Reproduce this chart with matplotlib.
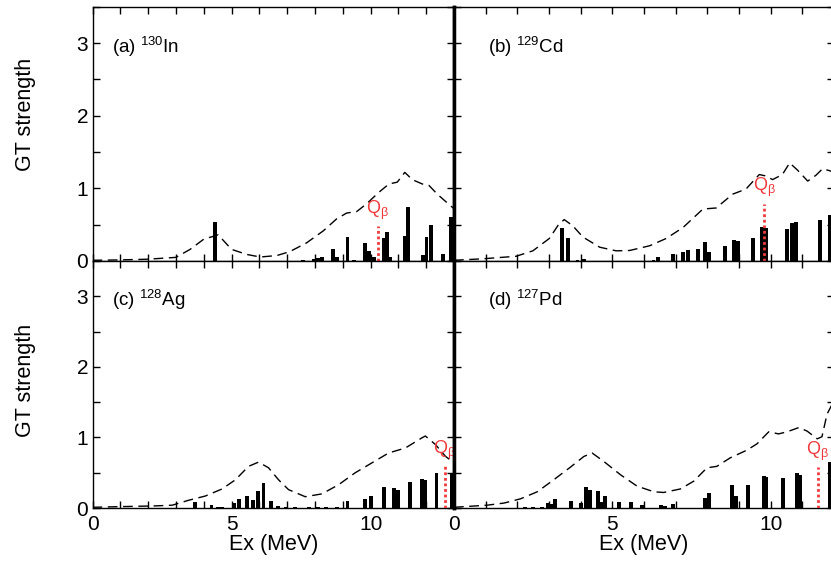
import matplotlib
matplotlib.use('Agg')
import matplotlib.pyplot as plt
from matplotlib.ticker import MultipleLocator, FuncFormatter

plt.rcParams['font.family'] = ['Liberation Sans', 'DejaVu Sans']
plt.rcParams['mathtext.fontset'] = 'custom'
plt.rcParams['mathtext.rm'] = 'Liberation Sans'
plt.rcParams['mathtext.it'] = 'Liberation Sans:italic'

# (a) 130In
a_ex = [4.39, 7.57, 7.95, 8.1, 8.25, 8.66, 8.8, 9.17, 9.4, 9.81, 9.95, 10.13,
        10.47, 10.6, 10.7, 11.25, 11.33, 11.88, 12.01, 12.18, 12.6, 12.88]
a_gt = [0.53, 0.02, 0.03, 0.04, 0.06, 0.17, 0.05, 0.33, 0.01, 0.25, 0.14, 0.06,
        0.31, 0.40, 0.05, 0.35, 0.75, 0.08, 0.33, 0.50, 0.10, 0.60]
a_fold_ex = [0, 1, 2, 3.0, 3.51, 4.0, 4.52, 5.0, 5.55, 6.03, 6.63, 7.1, 7.7,
             8.3, 8.78, 9.14, 9.5, 9.85, 10.3, 10.66, 10.96, 11.23, 11.5,
             11.86, 12.1, 12.4, 12.8, 13.0]
a_fold_gt = [0.01, 0.015, 0.025, 0.05, 0.16, 0.30, 0.36, 0.16, 0.09, 0.055,
             0.075, 0.13, 0.25, 0.415, 0.58, 0.66, 0.68, 0.785, 0.946, 1.06,
             1.085, 1.22, 1.12, 1.06, 1.04, 0.92, 0.785, 0.72]
a_q = 10.26
a_qtop = 0.48

# (b) 129Cd
b_ex = [3.42, 3.59, 3.9, 4.1, 6.3, 6.43, 6.92, 7.23, 7.4, 7.71, 7.92, 8.05,
        8.55, 8.84, 8.96, 9.45, 9.73, 9.85, 10.52, 10.68, 10.8, 11.55, 11.86]
b_gt = [0.45, 0.31, 0.01, 0.03, 0.01, 0.055, 0.09, 0.13, 0.15, 0.16, 0.26, 0.12,
        0.21, 0.29, 0.28, 0.31, 0.47, 0.45, 0.44, 0.52, 0.53, 0.57, 0.63]
b_fold_ex = [0, 0.9, 1.96, 2.49, 3.01, 3.3, 3.48, 3.75, 4.07, 4.6, 5.12, 5.55,
             6.18, 6.7, 7.23, 7.86, 8.28, 8.8, 9.22, 9.64, 9.85, 10.06, 10.37,
             10.6, 10.85, 11.17, 11.43, 11.64, 11.88, 12.0]
b_fold_gt = [0.01, 0.03, 0.065, 0.14, 0.31, 0.50, 0.57, 0.485, 0.33, 0.19, 0.14,
             0.145, 0.21, 0.31, 0.46, 0.715, 0.73, 0.92, 0.99, 1.19, 1.17, 1.12,
             1.19, 1.35, 1.25, 1.10, 1.18, 1.27, 1.24, 1.22]
b_q = 9.8
b_qtop = 0.79

# (c) 128Ag
c_ex = [3.68, 4.28, 4.5, 4.66, 5.1, 5.28, 5.55, 5.76, 5.94, 6.15, 6.43, 6.67,
        6.97, 7.27, 7.8, 8.1, 8.4, 8.8, 9.17, 9.8, 10.0, 10.47, 10.85, 11.0,
        11.42, 11.85, 11.97, 12.37, 12.93]
c_gt = [0.09, 0.04, 0.02, 0.02, 0.07, 0.13, 0.17, 0.11, 0.24, 0.36, 0.10, 0.03,
        0.02, 0.02, 0.01, 0.01, 0.02, 0.02, 0.10, 0.13, 0.17, 0.30, 0.29, 0.26,
        0.37, 0.41, 0.40, 0.49, 0.50]
c_fold_ex = [0, 1.08, 2.27, 2.87, 3.46, 4.06, 4.66, 5.14, 5.61, 5.97, 6.33,
             6.69, 7.05, 7.65, 8.25, 8.85, 9.45, 10.05, 10.65, 11.25, 11.85,
             11.97, 12.33, 12.7, 13.0]
c_fold_gt = [0.01, 0.02, 0.03, 0.04, 0.11, 0.17, 0.27, 0.40, 0.59, 0.65, 0.57,
             0.40, 0.26, 0.16, 0.20, 0.33, 0.50, 0.64, 0.78, 0.85, 0.995, 1.02,
             0.90, 0.73, 0.64]
c_q = 12.66
c_qtop = 0.59

# (d) 127Pd
d_ex = [2.23, 2.49, 2.78, 2.96, 3.08, 3.2, 3.69, 4.0, 4.16, 4.28, 4.54, 4.67,
        4.78, 5.2, 5.58, 5.94, 6.55, 6.65, 6.92, 7.93, 8.05, 8.78, 8.92, 9.29,
        9.79, 9.85, 10.39, 10.84, 10.93, 11.86]
d_gt = [0.01, 0.01, 0.02, 0.07, 0.06, 0.13, 0.10, 0.07, 0.30, 0.25, 0.24, 0.09,
        0.17, 0.09, 0.09, 0.04, 0.04, 0.03, 0.05, 0.14, 0.21, 0.33, 0.17, 0.33,
        0.46, 0.44, 0.43, 0.49, 0.47, 0.65]
d_fold_ex = [0, 1.05, 1.58, 2.1, 2.63, 3.15, 3.68, 4.1, 4.36, 4.73, 5.26, 5.78,
             6.31, 6.62, 7.15, 7.57, 7.99, 8.3, 8.72, 9.25, 9.57, 9.94, 10.25,
             10.52, 10.89, 11.15, 11.47, 11.62, 11.78, 12.0]
d_fold_gt = [0.01, 0.04, 0.07, 0.13, 0.23, 0.40, 0.58, 0.73, 0.78, 0.66, 0.47,
             0.31, 0.23, 0.22, 0.27, 0.38, 0.57, 0.59, 0.71, 0.82, 0.91, 1.08,
             1.05, 1.08, 1.14, 1.09, 0.98, 1.01, 1.33, 1.52]
d_q = 11.48
d_qtop = 0.58

panel_names = ['(a) $\\mathregular{^{130}}$In', '(b) $\\mathregular{^{129}}$Cd',
               '(c) $\\mathregular{^{128}}$Ag', '(d) $\\mathregular{^{127}}$Pd']

fig = plt.figure(figsize=(8.31, 5.65), dpi=100)
W, H = 831.0, 565.0

def box(x0, y0, x1, y1):
    return [x0 / W, 1 - y1 / H, (x1 - x0) / W, (y1 - y0) / H]

ax_a = fig.add_axes(box(92.5, 6.7, 454, 261))
ax_b = fig.add_axes(box(454, 6.7, 834, 261))
ax_c = fig.add_axes(box(92.5, 261, 454, 508))
ax_d = fig.add_axes(box(454, 261, 834, 508))

qcol = '#f0393b'

def draw(ax, ex, gt, fex, fgt, q, qtop, name, xmax, bw, name_x):
    ax.bar(ex, gt, width=bw, color='black', zorder=2)
    ax.plot(fex, fgt, color='black', lw=1.0, dashes=(7, 4), zorder=3)
    ax.plot([q, q], [0, qtop], color=qcol, lw=2.0, ls=(0, (1, 1)), zorder=4)
    ax.text(q, qtop + 0.06, 'Q$\\mathregular{_{β}}$', color=qcol, fontsize=13,
            ha='center', va='bottom', zorder=5)
    ax.text(name_x, 2.95, name, fontsize=13.5, ha='left', va='center')
    ax.set_xlim(0, xmax)
    ax.set_ylim(0, 3.5)
    ax.xaxis.set_major_locator(MultipleLocator(1))
    ax.yaxis.set_major_locator(MultipleLocator(1))
    ax.yaxis.set_minor_locator(MultipleLocator(0.5))
    ax.xaxis.set_major_formatter(FuncFormatter(
        lambda v, p: '%d' % v if abs(v % 5) < 1e-6 else ''))
    ax.tick_params(which='both', direction='in', top=True, right=True,
                   length=5, width=1, labelsize=15, pad=3)
    ax.tick_params(axis='x', pad=5)
    for s in ax.spines.values():
        s.set_linewidth(1.0)

draw(ax_a, a_ex, a_gt, a_fold_ex, a_fold_gt, a_q, a_qtop, panel_names[0], 13, 0.14, 0.69)
draw(ax_b, b_ex, b_gt, b_fold_ex, b_fold_gt, b_q, b_qtop, panel_names[1], 12, 0.125, 1.07)
draw(ax_c, c_ex, c_gt, c_fold_ex, c_fold_gt, c_q, c_qtop, panel_names[2], 13, 0.14, 0.69)
draw(ax_d, d_ex, d_gt, d_fold_ex, d_fold_gt, d_q, d_qtop, panel_names[3], 12, 0.125, 1.07)

for ax in (ax_a, ax_b):
    ax.tick_params(labelbottom=False)
for ax in (ax_b, ax_d):
    ax.tick_params(labelleft=False)
    ax.spines['left'].set_linewidth(2.5)
for ax in (ax_a, ax_c):
    ax.spines['right'].set_linewidth(2.5)
    ax.yaxis.set_major_formatter(FuncFormatter(lambda v, p: '%d' % v))

ax_a.set_ylabel('GT strength', fontsize=15.5)
ax_a.yaxis.set_label_coords(-0.157, 0.575)
ax_c.set_ylabel('GT strength', fontsize=15.5)
ax_c.yaxis.set_label_coords(-0.157, 0.518)
ax_c.set_xlabel('Ex (MeV)', fontsize=15.5, labelpad=0)
ax_d.set_xlabel('Ex (MeV)', fontsize=15.5, labelpad=0)

fig.savefig('out.png', dpi=100)
